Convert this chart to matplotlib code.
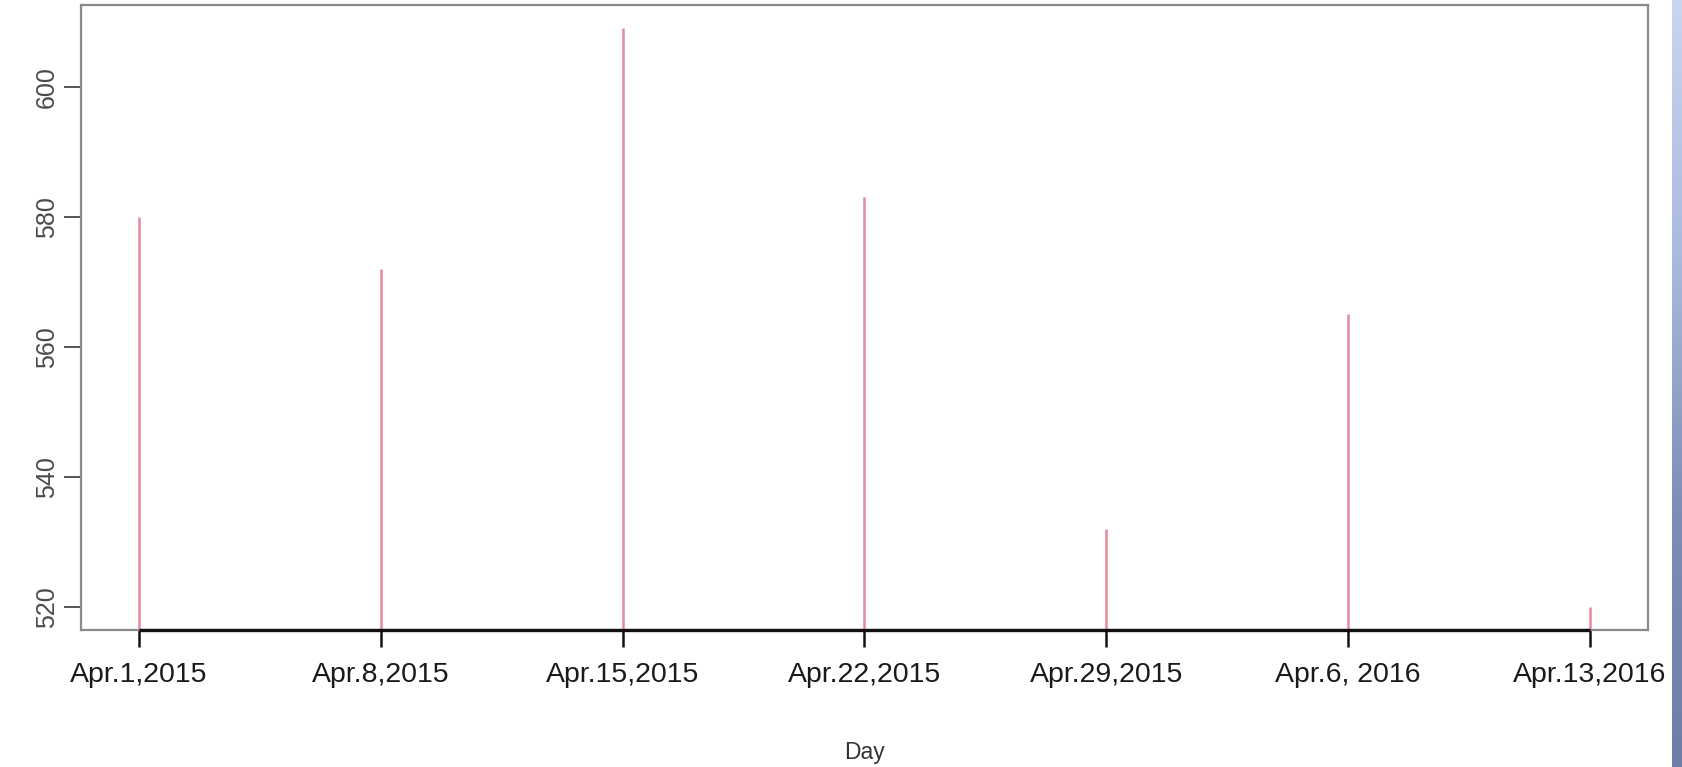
import matplotlib
matplotlib.use("Agg")
import matplotlib.pyplot as plt
import numpy as np

# data
days = ["Apr.1,2015", "Apr.8,2015", "Apr.15,2015", "Apr.22,2015",
        "Apr.29,2015", "Apr.6, 2016", "Apr.13,2016"]
values = [580, 572, 609, 583, 532, 565, 520]
y_ticks = [520, 540, 560, 580, 600]

plt.rcParams["font.family"] = ["Liberation Sans", "DejaVu Sans"]

fig = plt.figure(figsize=(16.83, 7.67), dpi=100)
ax = fig.add_axes([81 / 1683, 1 - 630 / 767, (1648 - 81) / 1683, (630 - 5) / 767])

x = np.arange(1, len(days) + 1)

# R-style limits: 4% padding on each side
yr = max(values) - min(values)
lo, hi = min(values) - 0.04 * yr, max(values) + 0.04 * yr
xr = x[-1] - x[0]
ax.set_xlim(x[0] - 0.04 * xr, x[-1] + 0.04 * xr)
ax.set_ylim(lo, hi)

# type="h" style vertical lines
ax.vlines(x, 0, values, color="#E6899B", linewidth=1.8)

# axis line drawn only between first and last tick
ax.plot([x[0], x[-1]], [lo, lo], color="#111111", linewidth=2.4,
        clip_on=False, solid_capstyle="butt", zorder=5)

for side in ["left", "right", "top", "bottom"]:
    ax.spines[side].set_color("#8a8a8a")
    ax.spines[side].set_linewidth(1.6)

ax.set_xticks(x)
ax.set_xticklabels(days, fontsize=20.5, color="#1a1a1a")
ax.tick_params(axis="x", length=12, width=1.8, color="#111111", pad=11)

ax.set_yticks(y_ticks)
ax.set_yticklabels([str(v) for v in y_ticks], fontsize=18, color="#4a4a4a",
                   rotation=90, va="center")
ax.tick_params(axis="y", length=12, width=1.4, color="#555555", pad=4)

ax.set_xlabel("Day", fontsize=16.5, color="#333333", labelpad=38)

# blue slide decoration on the right edge
band = fig.add_axes([1672 / 1683, 0, 11 / 1683, 1])
grad = np.linspace(0, 1, 256).reshape(-1, 1)
cmap = matplotlib.colors.LinearSegmentedColormap.from_list(
    "band", ["#c9d6f0", "#a9b9df", "#7d8db5", "#6f7ea6"])
band.imshow(grad, aspect="auto", cmap=cmap)
band.axis("off")

fig.savefig("out.png", dpi=100)
